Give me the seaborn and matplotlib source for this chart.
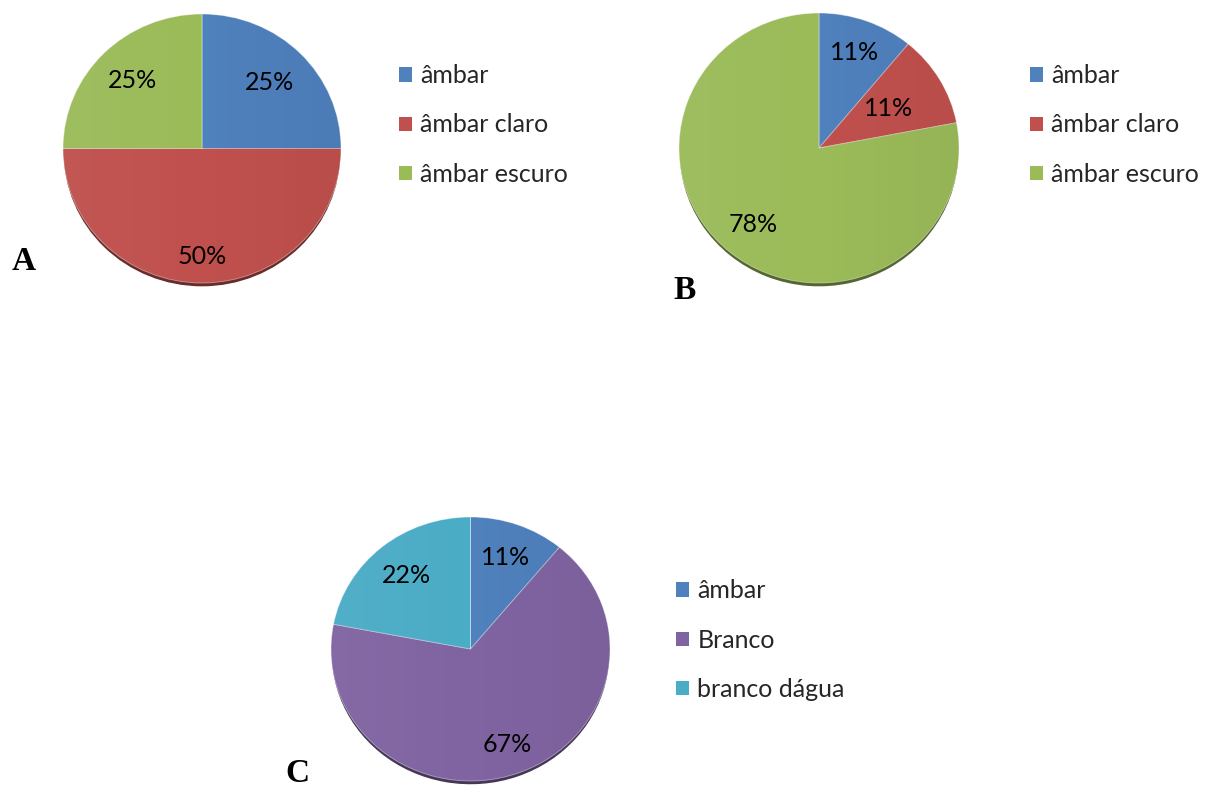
import numpy as np
import matplotlib
matplotlib.use("Agg")
import matplotlib.pyplot as plt
import matplotlib.colors as mcolors
from matplotlib.patches import Patch, Ellipse
import seaborn as sns

# ---- data -------------------------------------------------------------
cats_a = ["âmbar", "âmbar claro", "âmbar escuro"]
vals_a = [25, 50, 25]

cats_b = ["âmbar", "âmbar claro", "âmbar escuro"]
vals_b = [11, 11, 78]

cats_c = ["âmbar", "Branco", "branco dágua"]
vals_c = [11, 67, 22]

panel_letters = ["A", "B", "C"]

# ---- style ------------------------------------------------------------
sns.set_theme(style="white")
plt.rcParams["font.family"] = ["Lato", "DejaVu Sans"]

office = sns.color_palette(["#4F81BD", "#C0504D", "#9BBB59", "#8064A2", "#4BACC6"])
col_blue, col_red, col_green, col_purple, col_aqua = office
colors_a = [col_blue, col_red, col_green]
colors_b = [col_blue, col_red, col_green]
colors_c = [col_blue, col_purple, col_aqua]

FS = 18

W, H = 1213, 787
fig = plt.figure(figsize=(W / 100, H / 100), dpi=100)
fig.patch.set_facecolor("white")


def px_axes(left, top, width, height):
    return fig.add_axes([left / W, 1 - (top + height) / H, width / W, height / H])


def darker(c, f=0.55):
    r, g, b = mcolors.to_rgb(c)
    return (r * f, g * f, b * f)


def draw_pie(box, values, labels, colors, label_dist, legend_anchor, letter, letter_xy):
    ax = px_axes(*box)
    ax.axis("off")

    # thin dark rim under the pie
    shadow, _ = ax.pie(values, colors=[darker(c) for c in colors], startangle=90,
                       counterclock=False, radius=1.0, center=(0, -0.03))
    for w in shadow:
        w.set_clip_on(False)
        w.set_zorder(1)

    wedges, _ = ax.pie(values, colors=colors, startangle=90, counterclock=False,
                       radius=1.0, wedgeprops=dict(linewidth=0.6, edgecolor=(1, 1, 1, 0.45)))
    for w in wedges:
        w.set_clip_on(False)
        w.set_zorder(2)

    # soft left-to-right shading across the face
    grad = np.linspace(0, 1, 256)[None, :]
    rgba = np.zeros((1, 256, 4))
    rgba[..., :3] = np.where(grad[..., None] < 0.5, 1.0, 0.0)
    rgba[..., 3] = np.abs(grad - 0.5) * 0.08
    clip = Ellipse((0, 0), 2, 2, transform=ax.transData, facecolor="none", edgecolor="none")
    ax.add_patch(clip)
    im = ax.imshow(rgba, extent=(-1, 1, -1, 1), aspect="auto", zorder=3, interpolation="bilinear")
    im.set_clip_path(clip)
    ax.set_aspect("auto")
    ax.set_xlim(-1, 1)
    ax.set_ylim(-1, 1)

    # percentage labels
    cum = 0.0
    total = float(sum(values))
    for v, d in zip(values, label_dist):
        mid = 90 - (cum + v / 2) / total * 360
        cum += v
        t = np.deg2rad(mid)
        ax.text(d * np.cos(t), d * np.sin(t), f"{v / total * 100:.0f}%",
                ha="center", va="center", fontsize=FS, color="black", zorder=5)

    handles = [Patch(facecolor=c, edgecolor="none") for c in colors]
    fig.legend(handles, labels, loc="center left",
               bbox_to_anchor=(legend_anchor[0] / W, 1 - legend_anchor[1] / H),
               frameon=False, fontsize=FS, handlelength=0.5, handleheight=0.5,
               handletextpad=0.35, labelspacing=1.05, borderpad=0, borderaxespad=0)

    fig.text(letter_xy[0] / W, 1 - letter_xy[1] / H, letter, ha="center", va="center",
             fontsize=24, fontweight="bold", family="Liberation Serif", color="black")


draw_pie((63, 14, 278, 269), vals_a, cats_a, colors_a, [0.69, 0.80, 0.71],
         (399, 125), panel_letters[0], (24, 262))
draw_pie((679, 13, 280, 270), vals_b, cats_b, colors_b, [0.75, 0.58, 0.74],
         (1030, 125), panel_letters[1], (685, 291))
draw_pie((331, 517, 279, 264), vals_c, cats_c, colors_c, [0.74, 0.77, 0.72],
         (676, 640), panel_letters[2], (297, 773))

fig.savefig("out.png", dpi=100, facecolor="white")
